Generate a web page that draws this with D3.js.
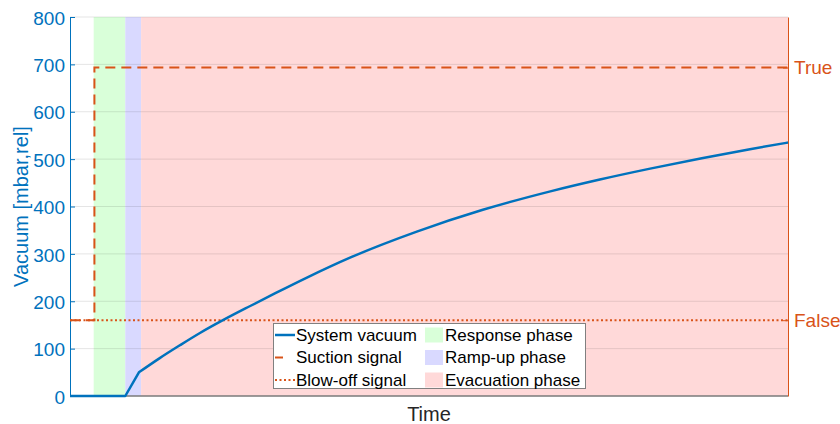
<!DOCTYPE html>
<html>
<head>
<meta charset="utf-8">
<script src="https://cdn.jsdelivr.net/npm/d3@7"></script>
<style>
    body { margin: 0; background: #fff; }
    svg { display: block; font-family: "Liberation Sans", Arial, sans-serif; }
</style>
</head>
<body>
<svg id="chart" width="840" height="424"></svg>
<script>
// system vacuum curve (time in s, vacuum in mbar rel)
const timeS = [0, 0.77, 0.96, 1.25, 1.53, 1.81, 2.13, 2.51, 2.86, 3.30, 3.90, 4.83, 5.75, 6.69, 7.38, 8.08, 8.80, 9.47, 10];
const vacuum = [0, 0, 50, 80, 107, 133, 160, 190, 217, 250, 292, 347, 393, 432, 457, 480, 502, 521, 535];
const rampEnd = 2; // index where the ramp-up kink is

// phases
const phaseNames = ['Response phase', 'Ramp-up phase', 'Evacuation phase'];
const phaseStart = [0.33, 0.77, 0.99];
const phaseEnd = [0.77, 0.99, 10];

// digital signals (0 = False, 1 = True)
const suctionTime = [0, 0.34, 0.34, 10];
const suctionState = [0, 0, 1, 1];
const blowOffTime = [0, 10];
const blowOffState = [0, 0];

const vacuumTicks = [0, 100, 200, 300, 400, 500, 600, 700, 800];
const signalTicks = [0, 1];
const signalLabels = ['False', 'True'];

const BLUE = '#0072BD';
const ORANGE = '#D95319';
const phaseColors = ['rgb(217,255,217)', 'rgb(217,217,255)', 'rgb(255,217,217)'];

const svg = d3.select('#chart');
const x = d3.scaleLinear().domain([0, 10]).range([70, 788]);
const y = d3.scaleLinear().domain([0, 800]).range([396, 17]);
const ySig = d3.scaleLinear().domain([-0.3, 1.2]).range([396, 17]);

// phase backgrounds
svg.append('g')
    .selectAll('rect')
    .data(phaseNames)
    .join('rect')
    .attr('x', (d, i) => x(phaseStart[i]))
    .attr('width', (d, i) => x(phaseEnd[i]) - x(phaseStart[i]))
    .attr('y', y(800))
    .attr('height', y(0) - y(800))
    .attr('fill', (d, i) => phaseColors[i]);

// grid
svg.append('g')
    .selectAll('line')
    .data(vacuumTicks.slice(1))
    .join('line')
    .attr('x1', x(0)).attr('x2', x(10))
    .attr('y1', d => y(d)).attr('y2', d => y(d))
    .attr('stroke', '#262626')
    .attr('stroke-opacity', 0.12);

// left axis
const gl = svg.append('g')
    .attr('transform', `translate(${x(0)},0)`)
    .call(d3.axisLeft(y).tickValues(vacuumTicks).tickSizeInner(-5).tickSizeOuter(0).tickPadding(5));
gl.select('.domain').attr('stroke', BLUE);
gl.selectAll('.tick line').attr('stroke', BLUE);
gl.selectAll('.tick text').attr('fill', BLUE).attr('font-size', 19).attr('font-family', null).attr('dy', '0.38em');

svg.append('text')
    .attr('transform', `translate(21,${(y(0) + y(800)) / 2}) rotate(-90)`)
    .attr('text-anchor', 'middle')
    .attr('dominant-baseline', 'central')
    .attr('fill', BLUE)
    .attr('font-size', 20)
    .text('Vacuum [mbar,rel]');

// right axis
const gr = svg.append('g')
    .attr('transform', `translate(${x(10)},0)`)
    .call(d3.axisRight(ySig).tickValues(signalTicks).tickFormat(d => signalLabels[d])
        .tickSizeInner(-5).tickSizeOuter(0).tickPadding(6));
gr.select('.domain').attr('stroke', ORANGE);
gr.selectAll('.tick line').attr('stroke', ORANGE);
gr.selectAll('.tick text').attr('fill', ORANGE).attr('font-size', 19).attr('font-family', null);

// bottom spine + label
svg.append('line')
    .attr('x1', x(0)).attr('x2', x(10))
    .attr('y1', y(0)).attr('y2', y(0))
    .attr('stroke', '#7a7a7a')
    .attr('stroke-width', 1.5);

svg.append('text')
    .attr('x', (x(0) + x(10)) / 2)
    .attr('y', 421)
    .attr('text-anchor', 'middle')
    .attr('fill', '#262626')
    .attr('font-size', 20)
    .text('Time');

// signals
const sigLine = d3.line().x(d => x(d[0])).y(d => ySig(d[1]));
svg.append('path')
    .attr('d', sigLine(blowOffTime.map((t, i) => [t, blowOffState[i]])))
    .attr('fill', 'none')
    .attr('stroke', ORANGE)
    .attr('stroke-width', 2)
    .attr('stroke-dasharray', '2,2.5');

svg.append('path')
    .attr('d', sigLine(suctionTime.map((t, i) => [t, suctionState[i]])))
    .attr('fill', 'none')
    .attr('stroke', ORANGE)
    .attr('stroke-width', 2)
    .attr('stroke-dasharray', '10,6');

// vacuum curve: straight ramp, then smooth evacuation part
const pts = timeS.map((t, i) => [t, vacuum[i]]);
const rampLine = d3.line().x(d => x(d[0])).y(d => y(d[1]));
const evacLine = d3.line().x(d => x(d[0])).y(d => y(d[1])).curve(d3.curveMonotoneX);
svg.append('path')
    .attr('d', rampLine(pts.slice(0, rampEnd + 1)) + evacLine(pts.slice(rampEnd)).replace(/^M/, 'L'))
    .attr('fill', 'none')
    .attr('stroke', BLUE)
    .attr('stroke-width', 2.5)
    .attr('stroke-linejoin', 'round');

// legend
const lg = svg.append('g').attr('font-size', 17);
lg.append('rect')
    .attr('x', 273.5).attr('y', 323.5)
    .attr('width', 312).attr('height', 65)
    .attr('fill', '#fff')
    .attr('stroke', '#808080');

const rowY = [335, 357.5, 380];
const lineItems = [
    { label: 'System vacuum', color: BLUE, dash: null, width: 2.5 },
    { label: 'Suction signal', color: ORANGE, dash: '8,14', width: 2 },
    { label: 'Blow-off signal', color: ORANGE, dash: '2,2.5', width: 2 },
];
lineItems.forEach((it, i) => {
    lg.append('line')
        .attr('x1', 275).attr('x2', 295)
        .attr('y1', rowY[i]).attr('y2', rowY[i])
        .attr('stroke', it.color)
        .attr('stroke-width', it.width)
        .attr('stroke-dasharray', it.dash);
    lg.append('text')
        .attr('x', 296).attr('y', rowY[i]).attr('dy', '0.35em')
        .attr('fill', '#000')
        .text(it.label);
});
phaseNames.forEach((name, i) => {
    lg.append('rect')
        .attr('x', 425).attr('y', rowY[i] - 7.5)
        .attr('width', 18).attr('height', 15)
        .attr('fill', phaseColors[i]);
    lg.append('text')
        .attr('x', 445).attr('y', rowY[i]).attr('dy', '0.35em')
        .attr('fill', '#000')
        .text(name);
});
</script>
</body>
</html>
